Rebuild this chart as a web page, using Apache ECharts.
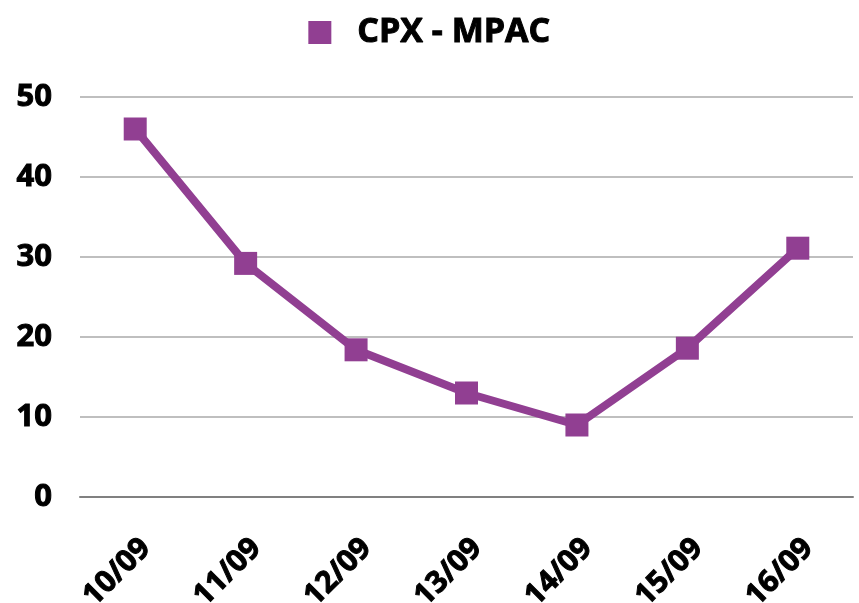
<!DOCTYPE html>
<html>
<head>
<meta charset="utf-8">
<script src="https://cdn.jsdelivr.net/npm/echarts@6/dist/echarts.min.js"></script>
<style>
  html, body { margin: 0; padding: 0; background: #fff; }
  #chart { width: 859px; height: 603px; }
</style>
</head>
<body>
<div id="chart"></div>
<script>
// Données
const categories = ["10/09", "11/09", "12/09", "13/09", "14/09", "15/09", "16/09"];
const seriesName = "CPX - MPAC";
const values = [46, 29.2, 18.4, 13, 9, 18.6, 31.1];
const yTicks = [0, 10, 20, 30, 40, 50];

const purple = "#913f92";
const font = "'Open Sans', sans-serif";

// Texte noir très gras (contour léger pour épaissir le Bold)
const heavy = {
    fontFamily: font,
    fontWeight: "bold",
    color: "#000",
    textBorderColor: "#000",
    textBorderWidth: 1
};

const chart = echarts.init(document.getElementById("chart"));

const option = {
    animation: false,
    legend: {
        top: 10,
        left: "center",
        itemWidth: 23,
        itemHeight: 23,
        icon: "rect",
        data: [seriesName],
        textStyle: Object.assign({}, heavy, {
            fontSize: 34,
            padding: [0, 0, 0, 21]
        })
    },
    grid: {
        left: 80,
        right: 6,
        top: 97,
        bottom: 106,
        outerBoundsMode: "none"
    },
    xAxis: {
        type: "category",
        data: categories,
        boundaryGap: true,
        axisTick: { show: false },
        axisLine: { lineStyle: { color: "#808080", width: 2 } },
        axisLabel: Object.assign({}, heavy, {
            rotate: 45,
            margin: 36,
            verticalAlign: "top",
            fontSize: 30
        })
    },
    yAxis: {
        type: "value",
        min: yTicks[0],
        max: yTicks[yTicks.length - 1],
        interval: 10,
        axisLine: { show: false },
        axisTick: { show: false },
        splitLine: { lineStyle: { color: "#bfbfbf", width: 2 } },
        axisLabel: Object.assign({}, heavy, {
            margin: 28,
            fontSize: 31
        })
    },
    series: [{
        name: seriesName,
        type: "line",
        data: values,
        symbol: "rect",
        symbolSize: 23,
        lineStyle: { color: purple, width: 8 },
        itemStyle: { color: purple }
    }]
};

chart.setOption(option);
</script>
</body>
</html>
